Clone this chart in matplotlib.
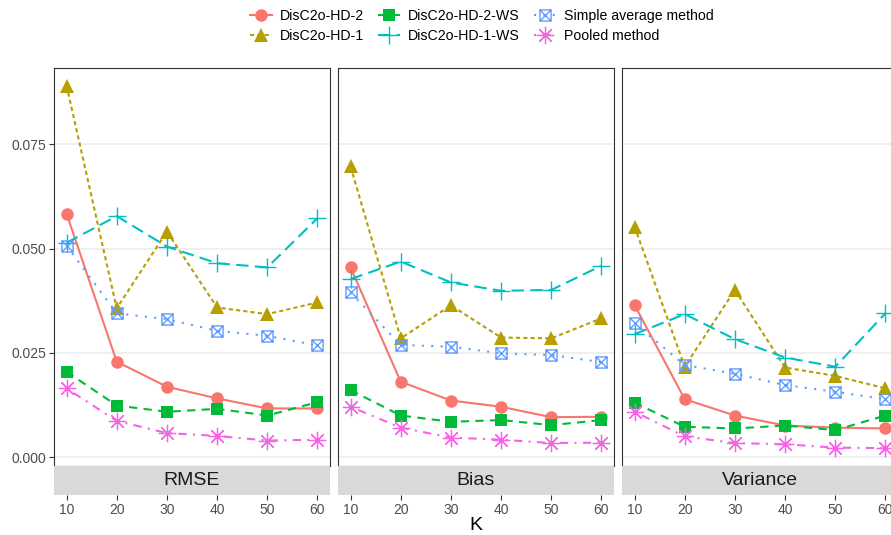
import matplotlib
matplotlib.use("Agg")
import matplotlib.pyplot as plt
from matplotlib.path import Path

plt.rcParams['font.family'] = ['Liberation Sans', 'DejaVu Sans']

K = [10, 20, 30, 40, 50, 60]
panels = ["RMSE", "Bias", "Variance"]
methods = ["DisC2o-HD-2", "DisC2o-HD-1", "DisC2o-HD-2-WS", "DisC2o-HD-1-WS",
           "Simple average method", "Pooled method"]

rmse = {
    "DisC2o-HD-2": [0.0584, 0.0229, 0.0169, 0.0141, 0.0117, 0.0117],
    "DisC2o-HD-1": [0.0891, 0.0357, 0.0541, 0.0359, 0.0343, 0.0371],
    "DisC2o-HD-2-WS": [0.0205, 0.0124, 0.0109, 0.0116, 0.0100, 0.0132],
    "DisC2o-HD-1-WS": [0.0514, 0.0578, 0.0505, 0.0465, 0.0455, 0.0573],
    "Simple average method": [0.0507, 0.0345, 0.0331, 0.0303, 0.0291, 0.0268],
    "Pooled method": [0.0165, 0.0087, 0.0058, 0.0051, 0.0040, 0.0042],
}
bias = {
    "DisC2o-HD-2": [0.0455, 0.0181, 0.0136, 0.0121, 0.0096, 0.0097],
    "DisC2o-HD-1": [0.0697, 0.0285, 0.0364, 0.0287, 0.0285, 0.0333],
    "DisC2o-HD-2-WS": [0.0161, 0.0100, 0.0085, 0.0089, 0.0077, 0.0089],
    "DisC2o-HD-1-WS": [0.0427, 0.0469, 0.0419, 0.0399, 0.0401, 0.0459],
    "Simple average method": [0.0395, 0.0269, 0.0265, 0.0249, 0.0245, 0.0228],
    "Pooled method": [0.0121, 0.0071, 0.0047, 0.0042, 0.0034, 0.0035],
}
variance = {
    "DisC2o-HD-2": [0.0365, 0.0139, 0.0100, 0.0076, 0.0071, 0.0069],
    "DisC2o-HD-1": [0.0553, 0.0217, 0.0401, 0.0215, 0.0195, 0.0165],
    "DisC2o-HD-2-WS": [0.0131, 0.0073, 0.0069, 0.0076, 0.0065, 0.0100],
    "DisC2o-HD-1-WS": [0.0295, 0.0343, 0.0283, 0.0239, 0.0217, 0.0345],
    "Simple average method": [0.0321, 0.0221, 0.0200, 0.0173, 0.0157, 0.0139],
    "Pooled method": [0.0109, 0.0050, 0.0034, 0.0031, 0.0023, 0.0022],
}
data = [rmse, bias, variance]

yticks = [0.000, 0.025, 0.050, 0.075]

# square with an X inside (ggplot shape 7)
boxx = Path([(-1, -1), (1, -1), (1, 1), (-1, 1), (-1, -1), (-1, -1), (1, 1), (-1, 1), (1, -1)],
            [Path.MOVETO, Path.LINETO, Path.LINETO, Path.LINETO, Path.CLOSEPOLY,
             Path.MOVETO, Path.LINETO, Path.MOVETO, Path.LINETO])

styles = {
    "DisC2o-HD-2": dict(color='#F8766D', ls='-', marker='o', ms=9, mew=0),
    "DisC2o-HD-1": dict(color='#B79F00', ls=(0, (2, 1.5)), marker='^', ms=10.5, mew=0),
    "DisC2o-HD-2-WS": dict(color='#00BA38', ls=(0, (4, 3)), marker='s', ms=8.5, mew=0),
    "DisC2o-HD-1-WS": dict(color='#00BFC4', ls=(0, (6, 3)), marker='+', ms=13.5, mew=1.0),
    "Simple average method": dict(color='#619CFF', ls=(0, (1, 3.5)), marker=boxx, ms=8,
                                  mew=1.0, mfc='none'),
    "Pooled method": dict(color='#F564E3', ls=(0, (1, 3, 4, 3)), marker=(8, 2, 0), ms=12.5, mew=0.9),
}

W, H = 891, 535
fig = plt.figure(figsize=(W / 100, H / 100), dpi=100)

lefts = [54, 338, 622]
pw = 276
ptop, pbot = 68, 466
sbot = 495

for i, (name, d) in enumerate(zip(panels, data)):
    x0 = lefts[i]
    ax = fig.add_axes([x0 / W, (H - pbot) / H, pw / W, (pbot - ptop) / H])
    for m in methods:
        ax.plot(K, d[m], lw=1.5, label=m, **styles[m])
    ax.set_xlim(7.5, 62.5)
    ax.set_ylim(-0.0021, 0.0933)
    ax.set_yticks(yticks)
    ax.grid(axis='y', color='#EBEBEB', lw=1.1, zorder=0)
    ax.set_axisbelow(True)
    for s in ax.spines.values():
        s.set_color('#333333')
        s.set_linewidth(0.8)
    ax.tick_params(axis='x', bottom=False, labelbottom=False)
    if i == 0:
        ax.set_yticklabels([f"{v:.3f}" for v in yticks])
        ax.tick_params(axis='y', length=3.5, width=0.8, color='#333333',
                       labelsize=10, labelcolor='#4D4D4D', pad=2)
    else:
        ax.tick_params(axis='y', left=False, labelleft=False)

    sax = fig.add_axes([x0 / W, (H - sbot) / H, pw / W, (sbot - pbot) / H], sharex=ax)
    sax.set_facecolor('#D9D9D9')
    for s in sax.spines.values():
        s.set_visible(False)
    sax.set_yticks([])
    sax.set_xticks(K)
    sax.set_xticklabels([str(k) for k in K])
    sax.tick_params(axis='x', length=3.5, width=0.8, color='#333333',
                    labelsize=10, labelcolor='#4D4D4D', pad=2)
    sax.text(0.5, 0.5, name, transform=sax.transAxes, ha='center', va='center',
             fontsize=14, color='#1A1A1A')

fig.text(476 / W, 1 - 525 / H, "K", ha='center', va='center', fontsize=14, color='black')

handles, labels = ax.get_legend_handles_labels()
fig.legend(handles, labels, ncol=3, loc='center', bbox_to_anchor=(482 / W, 1 - 26 / H),
           frameon=False, fontsize=10.2, handlelength=1.5, handletextpad=0.6,
           columnspacing=1.0, labelspacing=0.45)

fig.savefig("out.png", dpi=100)
